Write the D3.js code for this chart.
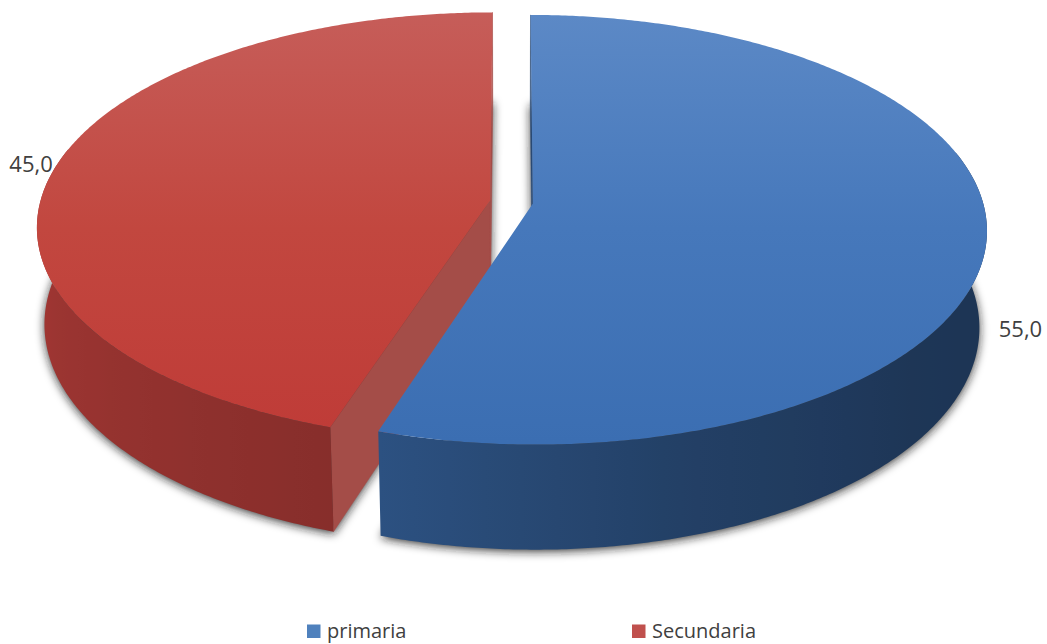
<!DOCTYPE html>
<html>
<head>
<meta charset="utf-8">
<script src="https://cdn.jsdelivr.net/npm/d3@7"></script>
<style>
  html, body { margin: 0; padding: 0; background: #ffffff; }
  svg { display: block; }
</style>
</head>
<body>
<svg id="chart" width="1047" height="644"></svg>
<script>
// ---- data ----
const categories = ["primaria", "Secundaria"];
const values = [55.0, 45.0];

// ---- colours ----
const baseColors = ["#3f73b8", "#c0413d"];            // used for the shaded walls
const topStops = [                                     // gradient of each top face (far -> near)
  ["#5c89c6", "#4678bb", "#3b6eb2"],
  ["#c65d59", "#c2473f", "#bf3b37"]
];
const cutColors = ["#2a4a75", "#a44d48"];
const legendColors = ["#4f81bd", "#c0504d"];

// ---- 3D view of the pie (unit radius disc, y up, z away from the viewer) ----
const view = { cx: 511.5, cy: 202, f: 3267, dist: 7.26, tilt: 28 * Math.PI / 180 };
const thickness = 0.246;
const explode = 0.048;
const sinT = Math.sin(view.tilt), cosT = Math.cos(view.tilt);
const camPos = [0, view.dist * sinT, -view.dist * cosT];

function project(x, y, z) {
  const yc = y * cosT + z * sinT;
  const depth = view.dist + z * cosT - y * sinT;
  return [view.cx + view.f * x / depth, view.cy - view.f * yc / depth];
}
const facing = (n, p) =>
  n[0] * (camPos[0] - p[0]) + n[1] * (camPos[1] - p[1]) + n[2] * (camPos[2] - p[2]);

const svg = d3.select("#chart");
const defs = svg.append("defs");

defs.append("filter").attr("id", "softShadow")
  .attr("x", "-10%").attr("y", "-10%").attr("width", "120%").attr("height", "130%")
  .append("feGaussianBlur").attr("stdDeviation", 5);

const fmt = d3.formatLocale({ decimal: ",", thousands: ".", grouping: [3], currency: ["", ""] }).format(".1f");
const colorIndex = d3.scaleOrdinal().domain(categories).range(d3.range(categories.length));

const pie = d3.pie().sort(null).value(d => d);
const slices = pie(values).map((a, i) => {
  const mid = (a.startAngle + a.endAngle) / 2;
  return {
    name: categories[i], value: values[i], idx: colorIndex(categories[i]),
    a0: a.startAngle, a1: a.endAngle, mid,
    ox: explode * Math.sin(mid), oz: explode * Math.cos(mid)
  };
});

const rim = (s, t, y) => project(s.ox + Math.sin(t), y, s.oz + Math.cos(t));
const hub = (s, y) => project(s.ox, y, s.oz);
function rimPoints(s, from, to, y) {
  const n = Math.max(2, Math.ceil(Math.abs(to - from) / (Math.PI / 360)));
  return d3.range(n + 1).map(k => rim(s, from + (to - from) * k / n, y));
}
const poly = pts => d3.line()(pts) + "Z";

// wall brightness as a function of the outward normal direction (light from the left)
const wallLight = d3.scaleLinear()
  .domain([90, 130, 165, 200, 270, 300])
  .range([0.45, 0.47, 0.56, 0.71, 0.86, 0.86])
  .clamp(true);
function shade(hex, k) {
  const c = d3.rgb(hex);
  return d3.rgb(c.r * k, c.g * k, c.b * k).formatHex();
}

// ---- soft shadow under each slice ----
const shadowG = svg.append("g").attr("filter", "url(#softShadow)").attr("transform", "translate(0,2)");
slices.forEach(s => {
  shadowG.append("path")
    .attr("d", poly([hub(s, -thickness)].concat(rimPoints(s, s.a0, s.a1, -thickness))))
    .attr("fill", "#1a1a1a").attr("fill-opacity", 0.85);
});

// ---- slices, farthest first ----
const order = slices.slice().sort((p, q) => q.oz - p.oz);
order.forEach(s => {
  const g = svg.append("g").attr("class", "slice " + s.name);

  // radial cut faces (only those turned towards the camera)
  [[s.a0, -1], [s.a1, 1]].forEach(([t, side]) => {
    const nt = t + side * Math.PI / 2;
    const n = [Math.sin(nt), 0, Math.cos(nt)];
    const p = [s.ox + 0.5 * Math.sin(t), -thickness / 2, s.oz + 0.5 * Math.cos(t)];
    if (facing(n, p) <= 0) return;
    const pts = [hub(s, 0), rim(s, t, 0), rim(s, t, -thickness), hub(s, -thickness)];
    g.append("path").attr("d", poly(pts))
      .attr("fill", cutColors[s.idx]).attr("stroke", cutColors[s.idx]).attr("stroke-width", 0.5);
  });

  // curved outer wall: one shape, shaded by a horizontal gradient sampled along the rim
  const lo = Math.max(s.a0, Math.acos(0.25));
  const hi = Math.min(s.a1, 2 * Math.PI - Math.acos(0.25));
  if (hi > lo) {
    const samples = d3.range(0, 181).map(k => lo + (hi - lo) * k / 180)
      .filter(t => facing([Math.sin(t), 0, Math.cos(t)],
                          [s.ox + Math.sin(t), 0, s.oz + Math.cos(t)]) > 0)
      .map(t => ({ x: rim(s, t, -thickness / 2)[0],
                   c: shade(baseColors[s.idx], wallLight(t * 180 / Math.PI)) }))
      .sort((p, q) => p.x - q.x);
    const x0 = samples[0].x, x1 = samples[samples.length - 1].x;
    const wid = "wall-" + s.idx;
    const wg = defs.append("linearGradient").attr("id", wid)
      .attr("gradientUnits", "userSpaceOnUse")
      .attr("x1", x0).attr("x2", x1).attr("y1", 0).attr("y2", 0);
    samples.filter((d, k) => k % 6 === 0 || k === samples.length - 1).forEach(d => {
      wg.append("stop").attr("offset", (d.x - x0) / (x1 - x0)).attr("stop-color", d.c);
    });
    const wallPts = rimPoints(s, lo, hi, 0).concat(rimPoints(s, hi, lo, -thickness));
    g.append("path").attr("d", poly(wallPts)).attr("fill", `url(#${wid})`);
  }

  // top face
  const far = project(0, 0, 1)[1], near = project(0, 0, -1)[1];
  const gid = "top-" + s.idx;
  const grad = defs.append("linearGradient").attr("id", gid)
    .attr("gradientUnits", "userSpaceOnUse")
    .attr("x1", 0).attr("x2", 0).attr("y1", far).attr("y2", near);
  topStops[s.idx].forEach((c, k, arr) => {
    grad.append("stop").attr("offset", k / (arr.length - 1)).attr("stop-color", c);
  });
  g.append("path")
    .attr("d", poly([hub(s, 0)].concat(rimPoints(s, s.a0, s.a1, 0))))
    .attr("fill", `url(#${gid})`);
});

// ---- value labels ----
const labelLayout = {
  primaria:   { dx: 12, dy: 100, anchor: "start" },
  Secundaria: { dx: -2, dy: 4,   anchor: "end" }
};
slices.forEach(s => {
  const [x, y] = rim(s, s.mid, 0);
  const L = labelLayout[s.name];
  svg.append("text")
    .attr("x", x + L.dx).attr("y", y + L.dy)
    .attr("text-anchor", L.anchor)
    .attr("font-family", "'Open Sans', 'Liberation Sans', sans-serif")
    .attr("font-size", 22)
    .attr("fill", "#404040")
    .text(fmt(s.value));
});

// ---- legend ----
const legendX = d3.scalePoint().domain(categories).range([307, 632]);
const legend = svg.append("g").attr("class", "legend");
categories.forEach((c, i) => {
  const x = legendX(c);
  legend.append("rect")
    .attr("x", x).attr("y", 624.5).attr("width", 13.5).attr("height", 13.5)
    .attr("fill", legendColors[i]);
  legend.append("text")
    .attr("x", x + 20).attr("y", 638)
    .attr("font-family", "'Open Sans', 'Liberation Sans', sans-serif")
    .attr("font-size", 20)
    .attr("fill", "#404040")
    .text(c);
});
</script>
</body>
</html>
